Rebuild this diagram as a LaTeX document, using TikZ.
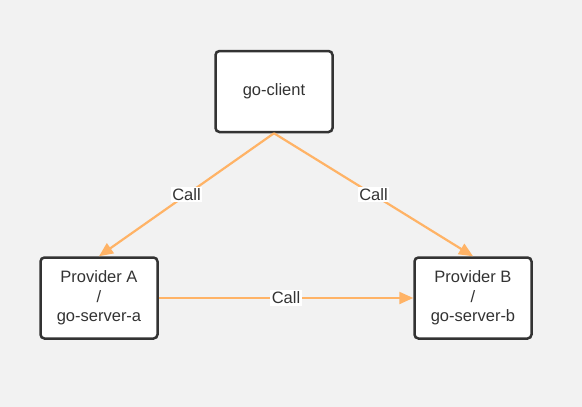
\documentclass[tikz,border=0pt]{standalone}
\usepackage{fontspec}
\setsansfont{Liberation Sans}
\usepackage{tikz}
\usetikzlibrary{arrows.meta}

\definecolor{bgray}{HTML}{F2F2F2}
\definecolor{callorange}{HTML}{FFB366}
\definecolor{boxline}{HTML}{333333}

\begin{document}
\begin{tikzpicture}[
    x=1pt, y=-1pt,
    every node/.style={font=\sffamily\fontsize{16.5}{19.5}\selectfont, text=boxline},
    service/.style={rectangle, draw=boxline, fill=white, line width=2.5pt,
        rounded corners=4pt, minimum width=117pt, minimum height=81pt,
        align=center, inner sep=0pt},
    call/.style={draw=callorange, line width=2.2pt,
        -{Triangle[length=14pt, width=12pt]}},
    lbl/.style={fill=white, inner sep=1.5pt}
]
% canvas
\fill[bgray] (0,0) rectangle (582,407);
\useasboundingbox (0,0) rectangle (582,407);
\node[service] (client) at (274, 91.5) {go-client};
\node[service] (provA)  at (99,  298)  {Provider A\\/\\go-server-a};
\node[service] (provB)  at (473, 298)  {Provider B\\/\\go-server-b};
\draw[call] (client.south) -- node[lbl]{Call} (provA.north);
\draw[call] (client.south) -- node[lbl]{Call} (provB.north);
\draw[call] (provA.east)   -- node[lbl]{Call} (provB.west);
\end{tikzpicture}
\end{document}
